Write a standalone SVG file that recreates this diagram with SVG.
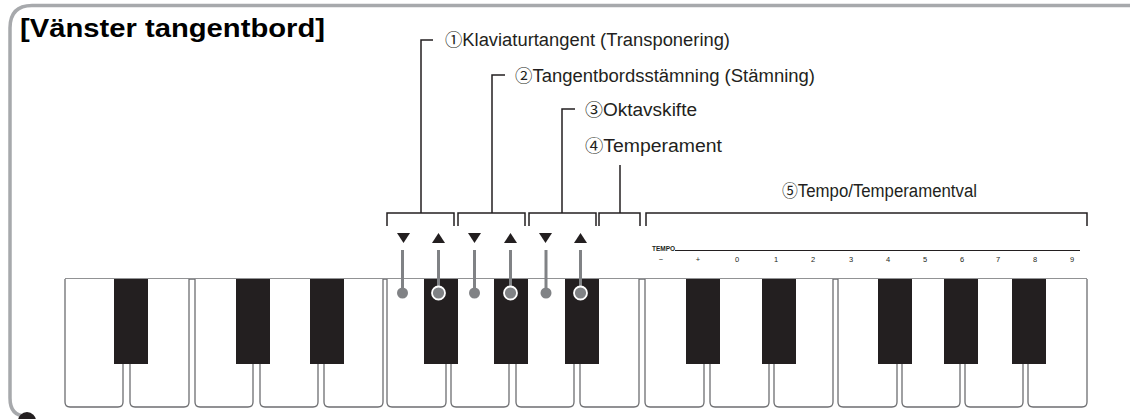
<svg xmlns="http://www.w3.org/2000/svg" width="1132" height="419" viewBox="0 0 1132 419">
<style>
.lbl{font-family:"Liberation Sans",Arial,"Noto Sans CJK JP",sans-serif;font-size:18px;fill:#231f20}
.cd{font-family:"Noto Sans CJK JP","DejaVu Sans",sans-serif;font-size:17px}
.title{font-family:"Liberation Sans",Arial,sans-serif;font-size:25px;font-weight:bold;fill:#000}
.br{fill:none;stroke:#231f20;stroke-width:1.5}
.wk{fill:#fff;stroke:#6d6e71;stroke-width:1.3}
.bk{fill:#231f20}
.lev{stroke:#808285;stroke-width:3}
.dot{fill:#808285}
.dotb{fill:#808285;stroke:#fff;stroke-width:1.8}
.tri{fill:#231f20}
.tp{font-family:"Liberation Sans",Arial,sans-serif;font-size:7.5px;fill:#231f20;text-anchor:middle}
</style>
<defs>
<path id="dn" d="M-6.5,0 H6.5 L0,10 Z"/>
<path id="up" d="M-6.5,10 H6.5 L0,0 Z"/>
</defs>
<rect width="1132" height="419" fill="#fff"/>
<g id="frame">
<path d="M1130,5.5 H32 Q10,5.5 10,28 V398 Q10,416 26,416" fill="none" stroke="#a7a9ac" stroke-width="3.5"/>
<circle cx="27" cy="421" r="9" fill="#231f20"/>
</g>
<g id="title">
<text class="title" x="20" y="37" textLength="305" lengthAdjust="spacingAndGlyphs">[Vänster tangentbord]</text>
</g>
<g id="keyboard">
<line x1="65" y1="279" x2="1087" y2="279" stroke="#6d6e71" stroke-width="1.3"/>
<path class="wk" d="M65,279 V402 Q65,407 70,407 H118 Q123,407 123,402 V279"/>
<path class="wk" d="M130,279 V402 Q130,407 135,407 H184 Q189,407 189,402 V279"/>
<path class="wk" d="M195,279 V402 Q195,407 200,407 H248 Q253,407 253,402 V279"/>
<path class="wk" d="M260,279 V402 Q260,407 265,407 H313 Q318,407 318,402 V279"/>
<path class="wk" d="M324,279 V402 Q324,407 329,407 H378 Q383,407 383,402 V279"/>
<path class="wk" d="M387,279 V402 Q387,407 392,407 H441 Q446,407 446,402 V279"/>
<path class="wk" d="M451,279 V402 Q451,407 456,407 H504 Q509,407 509,402 V279"/>
<path class="wk" d="M516,279 V402 Q516,407 521,407 H569 Q574,407 574,402 V279"/>
<path class="wk" d="M580,279 V402 Q580,407 585,407 H634 Q639,407 639,402 V279"/>
<path class="wk" d="M645,279 V402 Q645,407 650,407 H699 Q704,407 704,402 V279"/>
<path class="wk" d="M710,279 V402 Q710,407 715,407 H764 Q769,407 769,402 V279"/>
<path class="wk" d="M774,279 V402 Q774,407 779,407 H828 Q833,407 833,402 V279"/>
<path class="wk" d="M838,279 V402 Q838,407 843,407 H892 Q897,407 897,402 V279"/>
<path class="wk" d="M902,279 V402 Q902,407 907,407 H955 Q960,407 960,402 V279"/>
<path class="wk" d="M965,279 V402 Q965,407 970,407 H1018 Q1023,407 1023,402 V279"/>
<path class="wk" d="M1028,279 V402 Q1028,407 1033,407 H1082 Q1087,407 1087,402 V279"/>
<rect class="bk" x="114" y="279" width="34" height="85"/>
<rect class="bk" x="236" y="279" width="34" height="85"/>
<rect class="bk" x="310" y="279" width="34" height="85"/>
<rect class="bk" x="424" y="279" width="34" height="85"/>
<rect class="bk" x="494" y="279" width="34" height="85"/>
<rect class="bk" x="565" y="279" width="34" height="85"/>
<rect class="bk" x="686" y="279" width="34" height="85"/>
<rect class="bk" x="762" y="279" width="34" height="85"/>
<rect class="bk" x="878" y="279" width="34" height="85"/>
<rect class="bk" x="944" y="279" width="34" height="85"/>
<rect class="bk" x="1012" y="279" width="34" height="85"/>
</g>
<g id="levers">
<line class="lev" x1="402.5" y1="250" x2="402.5" y2="293"/>
<line class="lev" x1="438.5" y1="250" x2="438.5" y2="293"/>
<line class="lev" x1="474.5" y1="250" x2="474.5" y2="293"/>
<line class="lev" x1="510.5" y1="250" x2="510.5" y2="293"/>
<line class="lev" x1="546" y1="250" x2="546" y2="293"/>
<line class="lev" x1="580.5" y1="250" x2="580.5" y2="293"/>
<circle class="dot" cx="402.5" cy="293" r="5.5"/>
<circle class="dotb" cx="438.5" cy="293" r="6.5"/>
<circle class="dot" cx="474.5" cy="293" r="5.5"/>
<circle class="dotb" cx="510.5" cy="293" r="6.5"/>
<circle class="dot" cx="546" cy="293" r="5.5"/>
<circle class="dotb" cx="580.5" cy="293" r="6.5"/>
<use href="#dn" class="tri" x="403.5" y="233"/>
<use href="#up" class="tri" x="438.5" y="233"/>
<use href="#dn" class="tri" x="474.5" y="233"/>
<use href="#up" class="tri" x="510.5" y="233"/>
<use href="#dn" class="tri" x="545.5" y="233"/>
<use href="#up" class="tri" x="580.5" y="233"/>
</g>
<g id="tempo-scale">
<text x="652" y="251" style="font-family:'Liberation Sans',Arial,sans-serif;font-size:6.5px;font-weight:bold;fill:#231f20">TEMPO</text>
<line x1="675" y1="250.5" x2="1080" y2="250.5" stroke="#231f20" stroke-width="1.2"/>
<text class="tp" x="661" y="262">−</text>
<text class="tp" x="698" y="262">+</text>
<text class="tp" x="737" y="262">0</text>
<text class="tp" x="776" y="262">1</text>
<text class="tp" x="813" y="262">2</text>
<text class="tp" x="851" y="262">3</text>
<text class="tp" x="888" y="262">4</text>
<text class="tp" x="925" y="262">5</text>
<text class="tp" x="962" y="262">6</text>
<text class="tp" x="998" y="262">7</text>
<text class="tp" x="1035" y="262">8</text>
<text class="tp" x="1072" y="262">9</text>
</g>
<g id="connectors">
<path class="br" d="M387,226 V213 H454 V226"/>
<path class="br" d="M421,213 V40 H433"/>
<path class="br" d="M458,226 V213 H525 V226"/>
<path class="br" d="M492,213 V75 H505"/>
<path class="br" d="M529,226 V213 H596 V226"/>
<path class="br" d="M562,213 V109 H575"/>
<path class="br" d="M599,226 V213 H640 V226"/>
<path class="br" d="M620,213 V165"/>
<path class="br" d="M646,226 V213 H1087 V226"/>
</g>
<g id="label1"><text class="lbl" x="445" y="46" textLength="285" lengthAdjust="spacingAndGlyphs"><tspan class="cd">①</tspan>Klaviaturtangent (Transponering)</text></g>
<g id="label2"><text class="lbl" x="515" y="82" textLength="300" lengthAdjust="spacingAndGlyphs"><tspan class="cd">②</tspan>Tangentbordsstämning (Stämning)</text></g>
<g id="label3"><text class="lbl" x="585" y="116" textLength="112" lengthAdjust="spacingAndGlyphs"><tspan class="cd">③</tspan>Oktavskifte</text></g>
<g id="label4"><text class="lbl" x="585" y="152" textLength="137" lengthAdjust="spacingAndGlyphs"><tspan class="cd">④</tspan>Temperament</text></g>
<g id="label5"><text class="lbl" x="782" y="197" textLength="195" lengthAdjust="spacingAndGlyphs"><tspan class="cd">⑤</tspan>Tempo/Temperamentval</text></g>
</svg>
